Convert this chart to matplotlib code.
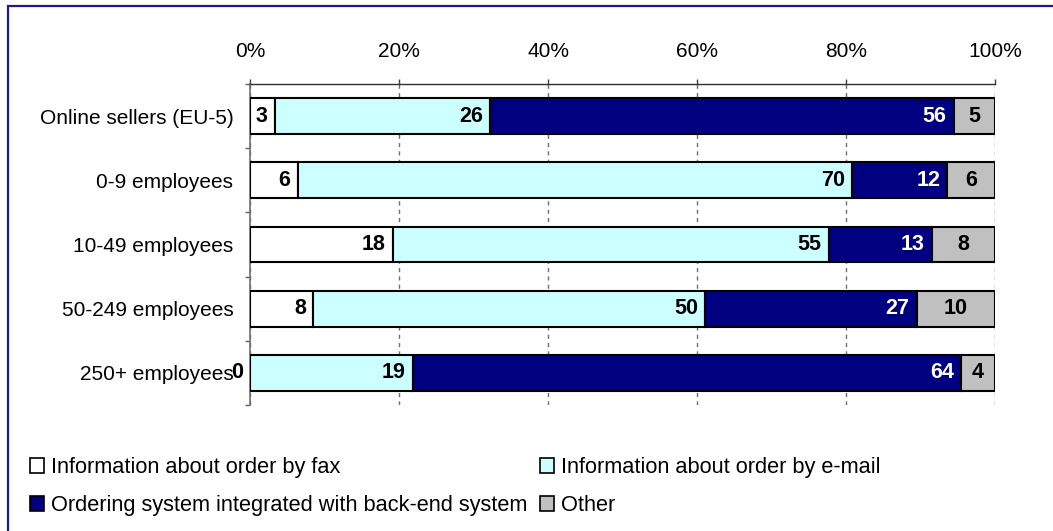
import matplotlib
matplotlib.use("Agg")
import matplotlib.pyplot as plt
from matplotlib.patches import Rectangle, Patch
import numpy as np

plt.rcParams['font.family'] = ['Liberation Sans', 'DejaVu Sans']

categories = ["Online sellers (EU-5)", "0-9 employees", "10-49 employees",
              "50-249 employees", "250+ employees"]
series_names = ["Information about order by fax",
                "Information about order by e-mail",
                "Ordering system integrated with back-end system",
                "Other"]
fax = [3, 6, 18, 8, 0]
email = [26, 70, 55, 50, 19]
backend = [56, 12, 13, 27, 64]
other = [5, 6, 8, 10, 4]
x_ticks = [0, 20, 40, 60, 80, 100]
x_tick_labels = ["0%", "20%", "40%", "60%", "80%", "100%"]

colors = ["#FFFFFF", "#CCFFFF", "#000080", "#C0C0C0"]
text_colors = ["black", "black", "white", "black"]

values = np.array([fax, email, backend, other], dtype=float)
shares = values / values.sum(axis=0) * 100.0

W, H = 1053, 531
fig = plt.figure(figsize=(W / 100, H / 100), dpi=100)
ax = fig.add_axes([250 / W, 1 - 405 / H, 745 / W, 321 / H])

y = np.arange(len(categories))
left = np.zeros(len(categories))
FS = 15
for i, name in enumerate(series_names):
    ax.barh(y, shares[i], left=left, height=0.56, color=colors[i],
            edgecolor="black", linewidth=1.5, label=name, zorder=3)
    for j in range(len(categories)):
        label = f"{int(values[i, j])}"
        if i == 3:
            ax.annotate(label, (left[j] + shares[i, j] / 2, y[j]),
                        ha="center", va="center", fontsize=FS + 0.5,
                        fontweight="bold", color=text_colors[i], zorder=4)
        else:
            ax.annotate(label, (left[j] + shares[i, j], y[j]),
                        xytext=(-5, 0), textcoords="offset points",
                        ha="right", va="center", fontsize=FS + 0.5,
                        fontweight="bold", color=text_colors[i], zorder=4)
    left += shares[i]

ax.set_xlim(0, 100)
ax.set_ylim(len(categories) - 0.5, -0.5)

ax.xaxis.tick_top()
ax.set_xticks(x_ticks)
ax.set_xticklabels(x_tick_labels, fontsize=FS)
ax.tick_params(axis="x", direction="out", length=3.6, width=1,
               color="#404040", pad=13)
ax.grid(axis="x", color="#707070", linestyle=(0, (3, 3)), linewidth=1,
        zorder=1)

ax.set_yticks(y)
ax.set_yticklabels(categories, fontsize=FS)
ax.tick_params(axis="y", length=0, pad=12)
ax.set_yticks(np.arange(len(categories) + 1) - 0.5, minor=True)
ax.tick_params(axis="y", which="minor", length=3.6, width=1,
               color="#606060", direction="out")

for s in ["right", "bottom"]:
    ax.spines[s].set_visible(False)
ax.spines["left"].set_color("#707070")
ax.spines["left"].set_linewidth(1.2)
ax.spines["top"].set_color("#303030")
ax.spines["top"].set_linewidth(1)

# Legend laid out row by row
LFS = 15.7
handles = [Patch(facecolor=c, edgecolor="black", linewidth=1.2) for c in colors]
order = [0, 2, 1, 3]
fig.legend([handles[k] for k in order], [series_names[k] for k in order],
           ncol=2, loc="upper left", bbox_to_anchor=(30 / W, 1 - 457 / H),
           frameon=False, fontsize=LFS, handlelength=0.65, handleheight=0.7,
           handletextpad=0.3, columnspacing=0.6, labelspacing=0.8,
           borderpad=0, borderaxespad=0)

# Outer frame
fig.patches.append(Rectangle((8 / W, -0.2), 1.5, 1.2 - 6 / H,
                             transform=fig.transFigure, fill=False,
                             edgecolor="#1C1C8E", linewidth=1.6))

fig.savefig("out.png", dpi=100)
